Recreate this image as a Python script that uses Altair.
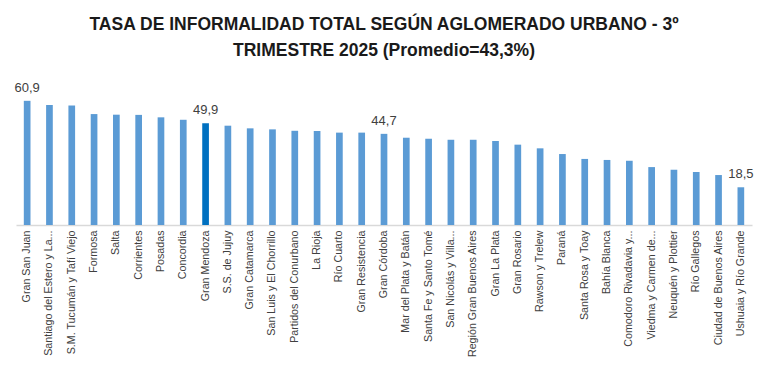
import altair as alt
import pandas as pd

categories = [
    "Gran San Juan", "Santiago del Estero y La...", "S.M. Tucumán y Tafí Viejo", "Formosa", "Salta",
    "Corrientes", "Posadas", "Concordia", "Gran Mendoza", "S.S. de Jujuy", "Gran Catamarca",
    "San Luis y El Chorrillo", "Partidos del Conurbano", "La Rioja", "Río Cuarto", "Gran Resistencia",
    "Gran Córdoba", "Mar del Plata y Batán", "Santa Fe y Santo Tomé", "San Nicolás y Villa...",
    "Región Gran Buenos Aires", "Gran La Plata", "Gran Rosario", "Rawson y Trelew", "Paraná",
    "Santa Rosa y Toay", "Bahía Blanca", "Comodoro Rivadavia y...", "Viedma y Carmen de...",
    "Neuquén y Plottier", "Río Gallegos", "Ciudad de Buenos Aires", "Ushuaia y Río Grande",
]
values = [
    60.9, 58.9, 58.6, 54.4, 54.1, 54.0, 52.8, 51.6, 49.9, 48.7, 47.4,
    46.9, 46.2, 46.1, 45.3, 45.3, 44.7, 42.8, 42.3, 41.8, 41.8, 41.2,
    39.4, 37.6, 34.8, 32.4, 31.9, 31.5, 28.4, 27.1, 26.0, 24.5, 18.5,
]
labeled = ["Gran San Juan", "Gran Mendoza", "Gran Córdoba", "Ushuaia y Río Grande"]
highlight = "Gran Mendoza"

df = pd.DataFrame({"name": categories, "value": values})
df["lbl"] = [f"{v:.1f}".replace(".", ",") if n in labeled else "" for n, v in zip(categories, values)]

x = alt.X("name:N", sort=categories, title=None,
          scale=alt.Scale(paddingInner=0.7, paddingOuter=0.35),
          axis=alt.Axis(labelAngle=-90, labelFont="Liberation Sans", labelFontSize=10.7,
                        labelColor="#404040", ticks=False, domainColor="#d9d9d9", domainWidth=1.5,
                        labelPadding=5, labelLimit=200))
y = alt.Y("value:Q", scale=alt.Scale(domain=[0, 61.3], nice=False), axis=None)

bars = alt.Chart(df).mark_bar().encode(
    x=x, y=y,
    color=alt.condition(alt.datum.name == highlight, alt.value("#0070C0"), alt.value("#5B9BD5")),
)
text = alt.Chart(df).mark_text(dy=-13, fontSize=13, font="Liberation Sans", color="#404040").encode(
    x=x, y=y, text="lbl:N"
)

chart = (bars + text).properties(
    width=736, height=125,
    autosize="none",
    padding={"left": 8, "top": 92, "right": 8, "bottom": 151},
    title=alt.TitleParams(
        text=["TASA DE INFORMALIDAD TOTAL SEGÚN AGLOMERADO URBANO - 3º", "TRIMESTRE 2025 (Promedio=43,3%)"],
        font="Liberation Sans", fontSize=17.5, fontWeight="bold", color="#1a1a1a",
        anchor="middle", offset=22, lineHeight=26,
    ),
).configure_view(stroke=None)

chart.save("out.html", embed_options={"renderer": "svg", "actions": False})
